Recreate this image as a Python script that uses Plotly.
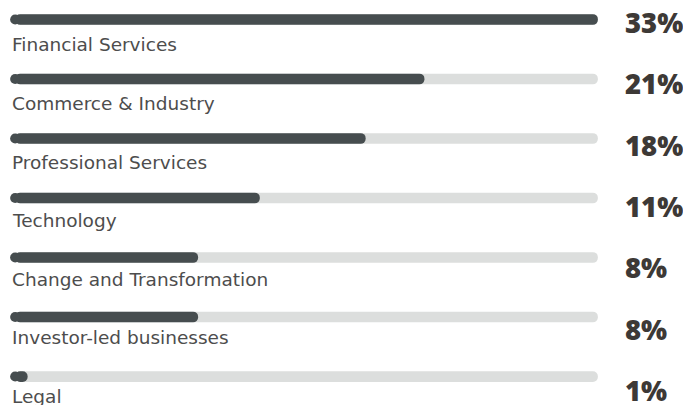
import plotly.graph_objects as go

sectors = ["Financial Services", "Commerce & Industry", "Professional Services",
           "Technology", "Change and Transformation", "Investor-led businesses", "Legal"]
shares = [33, 21, 18, 11, 8, 8, 1]
# filled part of each track, in % of the track length (as drawn)
fill = [100, 70.5, 60.5, 42.5, 32, 32, 3]
track = [100] * len(sectors)
pos = list(range(len(sectors)))

dark = "#464d4f"
light = "#dcdedd"
cap = 0.88  # half the bar thickness in x units

fig = go.Figure()
# grey track, rounded at the right end
fig.add_trace(go.Bar(y=pos, x=[v - cap for v in track], base=cap, orientation="h", width=0.18,
                     marker=dict(color=light, line_width=0, cornerradius="50%"),
                     hoverinfo="skip"))
# dark fill, rounded at the right end, circle for the left end
fig.add_trace(go.Bar(y=pos, x=[v - cap for v in fill], base=cap, orientation="h", width=0.18,
                     marker=dict(color=dark, line_width=0, cornerradius="50%"),
                     customdata=shares, hovertemplate="%{customdata}%<extra></extra>"))
fig.add_trace(go.Scatter(y=pos, x=[cap] * len(pos), mode="markers",
                         marker=dict(color=dark, size=10.1, line_width=0), hoverinfo="skip"))

for i, (name, s) in enumerate(zip(sectors, shares)):
    fig.add_annotation(x=0, y=i, text=name, showarrow=False, xanchor="left",
                       yanchor="middle", xshift=0, yshift=-(25.5 - 0.95 * i),
                       font=dict(family="DejaVu Sans", size=18.5, color="#4d4d4d"))
    fig.add_annotation(x=104.2, y=i, text="%d%%" % s, showarrow=False,
                       xanchor="left", yanchor="middle", yshift=-(3 + 1.8 * i),
                       font=dict(family="Open Sans", size=27.5, weight=800, color="#3d3936"))

fig.update_layout(
    width=691, height=405, barmode="overlay", showlegend=False,
    margin=dict(l=0, r=0, t=0, b=0),
    paper_bgcolor="white", plot_bgcolor="white",
    xaxis=dict(range=[-0.34, 117.2], visible=False, fixedrange=True),
    yaxis=dict(range=[6.613, -0.193], visible=False, fixedrange=True),
)
fig.write_html("out.html")
